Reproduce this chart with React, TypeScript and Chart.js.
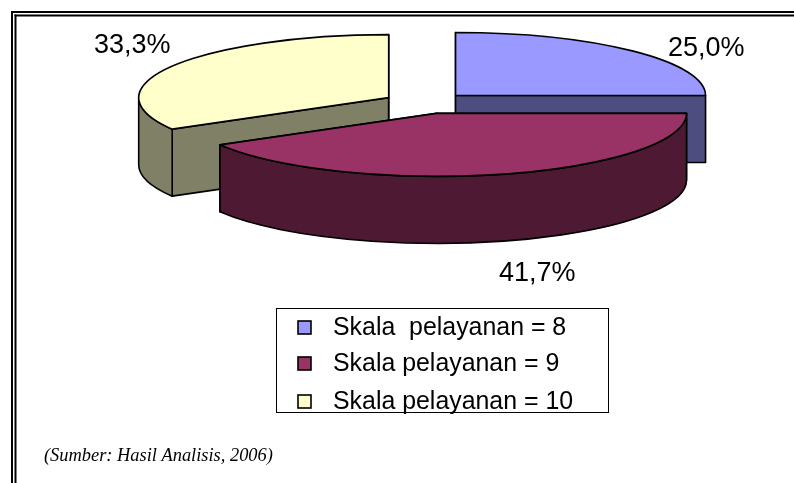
import React, { useEffect, useRef } from "react";
import { Chart, registerables } from "chart.js";

Chart.register(...registerables);

const categories = ["Skala  pelayanan = 8", "Skala pelayanan = 9", "Skala pelayanan = 10"];
const values = [3, 5, 4];
const percentLabels = ["25,0%", "41,7%", "33,3%"];
const faceColors = ["#9999ff", "#993366", "#ffffcc"];
const sideColors = ["#4d4d80", "#4d1933", "#808066"];
const sourceNote = "(Sumber: Hasil Analisis, 2006)";

const PIE_CX = 425.5;
const PIE_CY = 103;
const PIE_RX = 250;
const PIE_RY = 63;
const DEPTH = 67;
const drawOrder = [0, 2, 1];
const percentPos = [
  [668, 56],
  [499, 281],
  [94, 53],
];
const legendBox = { x: 276, y: 308, w: 332, h: 104 };
const legendSwatchX = 297;
const legendTextX = 333;
const legendBaselines = [335, 371, 409];
const FONT = "Arial, 'Liberation Sans', sans-serif";

const piePlugin = {
  id: "tiltedPie",
  beforeDraw(chart: any) {
    const ctx = chart.ctx;
    ctx.save();
    ctx.fillStyle = "#fff";
    ctx.fillRect(0, 0, chart.width, chart.height);
    ctx.fillStyle = "#000";
    ctx.fillRect(11, 11, chart.width - 11, 2);
    ctx.fillRect(14.5, 14.5, chart.width - 14.5, 2);
    ctx.fillRect(11, 11, 2, chart.height - 11);
    ctx.fillRect(14.5, 14.5, 2, chart.height - 14.5);
    ctx.restore();
  },
  beforeDatasetsDraw(chart: any) {
    const ctx = chart.ctx;
    const arcs = chart.getDatasetMeta(0).data;
    for (const i of drawOrder) {
      const el = arcs[i];
      const R = el.outerRadius;
      const sx = PIE_RX / R;
      const sy = PIE_RY / R;
      const mid = (el.startAngle + el.endAngle) / 2;
      const off = (el.options.offset || 0) / 4;
      const cx = PIE_CX + Math.cos(mid) * off * sx;
      const cy = PIE_CY + Math.sin(mid) * off * sy;
      const px = (a: number) => cx + Math.cos(a) * PIE_RX;
      const py = (a: number) => cy + Math.sin(a) * PIE_RY;

      ctx.save();
      ctx.lineWidth = 1.6;
      ctx.strokeStyle = "#000";
      ctx.lineJoin = "round";
      ctx.fillStyle = sideColors[i];

      // flat cut faces
      for (const a of [el.startAngle, el.endAngle]) {
        ctx.beginPath();
        ctx.moveTo(cx, cy);
        ctx.lineTo(px(a), py(a));
        ctx.lineTo(px(a), py(a) + DEPTH);
        ctx.lineTo(cx, cy + DEPTH);
        ctx.closePath();
        ctx.fill();
        ctx.stroke();
      }

      // curved rim (front half only)
      const a1 = Math.max(el.startAngle, 0);
      const a2 = Math.min(el.endAngle, Math.PI);
      if (a2 > a1) {
        ctx.beginPath();
        ctx.ellipse(cx, cy, PIE_RX, PIE_RY, 0, a1, a2);
        ctx.lineTo(px(a2), py(a2) + DEPTH);
        ctx.ellipse(cx, cy + DEPTH, PIE_RX, PIE_RY, 0, a2, a1, true);
        ctx.closePath();
        ctx.fill();
        ctx.stroke();
      }

      // top face, from the library's arc geometry and colour
      ctx.fillStyle = el.options.backgroundColor;
      ctx.beginPath();
      ctx.moveTo(cx, cy);
      ctx.ellipse(cx, cy, PIE_RX, PIE_RY, 0, el.startAngle, el.endAngle);
      ctx.closePath();
      ctx.fill();
      ctx.stroke();
      ctx.restore();
    }
    return false;
  },
  afterDraw(chart: any) {
    const ctx = chart.ctx;
    ctx.save();
    ctx.textAlign = "left";
    ctx.textBaseline = "alphabetic";
    ctx.fillStyle = "#000";

    ctx.font = `27px ${FONT}`;
    percentLabels.forEach((t, i) => ctx.fillText(t, percentPos[i][0], percentPos[i][1]));

    ctx.strokeStyle = "#000";
    ctx.lineWidth = 1;
    ctx.strokeRect(legendBox.x + 0.5, legendBox.y + 0.5, legendBox.w, legendBox.h);

    ctx.font = `24.9px ${FONT}`;
    categories.forEach((t, i) => {
      const y = legendBaselines[i];
      ctx.fillStyle = faceColors[i];
      ctx.lineWidth = 1.6;
      ctx.fillRect(legendSwatchX + 1, y - 14, 13, 13);
      ctx.strokeRect(legendSwatchX + 1, y - 14, 13, 13);
      ctx.fillStyle = "#000";
      ctx.fillText(t, legendTextX, y);
    });

    ctx.font = "italic 18.4px 'Liberation Serif', 'Times New Roman', serif";
    ctx.fillText(sourceNote, 44, 461);
    ctx.restore();
  },
};

export default function App() {
  const ref = useRef<HTMLCanvasElement>(null);
  useEffect(() => {
    document.body.style.margin = "0";
    const chart = new Chart(ref.current as HTMLCanvasElement, {
      type: "pie",
      data: {
        labels: categories,
        datasets: [
          {
            data: values,
            backgroundColor: faceColors,
            borderWidth: 0,
            offset: 102,
            radius: 150,
          },
        ],
      },
      options: {
        responsive: false,
        animation: false,
        plugins: { legend: { display: false }, tooltip: { enabled: false } },
      },
      plugins: [piePlugin],
    } as any);
    return () => chart.destroy();
  }, []);
  return <canvas ref={ref} width={794} height={483} style={{ display: "block" }} />;
}
